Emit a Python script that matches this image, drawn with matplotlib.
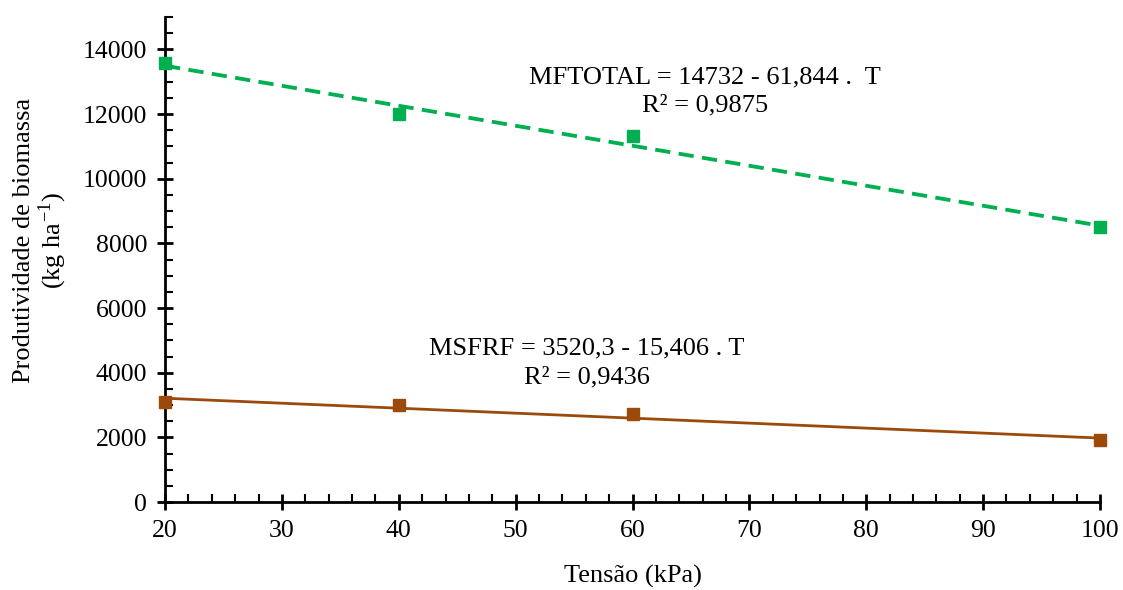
import numpy as np
import matplotlib
matplotlib.use('Agg')
import matplotlib.pyplot as plt
from matplotlib.ticker import MultipleLocator

plt.rcParams['font.family'] = ['Liberation Serif', 'DejaVu Serif']
plt.rcParams['mathtext.fontset'] = 'stix'

tensao = [20, 40, 60, 100]
mftotal = [13580, 11990, 11310, 8500]
msfrf = [3110, 3000, 2740, 1920]

# coeficientes das equacoes ajustadas (a + b*T)
coef_mftotal = (14732, -61.844)
coef_msfrf = (3520.3, -15.406)

GREEN = '#00B050'
BROWN = '#9C4A0C'

fig = plt.figure(figsize=(11.23, 5.90), dpi=100)
ax = fig.add_axes([0.147, 0.149, 0.8325, 0.822])

t_line = np.array([tensao[0], tensao[-1]])
ax.plot(t_line, coef_mftotal[0] + coef_mftotal[1] * t_line, color=GREEN,
        lw=2.75, ls=(0, (4, 2.2)), clip_on=False)
ax.plot(t_line, coef_msfrf[0] + coef_msfrf[1] * t_line, color=BROWN,
        lw=2, clip_on=False)
ax.plot(tensao, mftotal, 's', color=GREEN, ms=9, clip_on=False, zorder=5)
ax.plot(tensao, msfrf, 's', color=BROWN, ms=9, clip_on=False, zorder=5)

ax.set_xlim(20, 100)
ax.set_ylim(0, 15000)
ax.set_xticks(range(20, 101, 10))
ax.set_yticks(range(0, 14001, 2000))
ax.xaxis.set_minor_locator(MultipleLocator(2))
ax.yaxis.set_minor_locator(MultipleLocator(500))

for side in ['top', 'right']:
    ax.spines[side].set_visible(False)
for side in ['left', 'bottom']:
    ax.spines[side].set_linewidth(2)

ax.tick_params(which='major', direction='inout', length=12, width=2,
               labelsize=18.5, pad=7)
ax.tick_params(which='minor', direction='in', length=6, width=1.5)

ax.set_xlabel('Tensão (kPa)', fontsize=19)
ax.xaxis.set_label_coords(0.5, -0.13)
ax.set_ylabel('Produtividade de biomassa\n(kg ha$^{\\mathregular{-1}}$)',
              fontsize=19, linespacing=1.05)
ax.yaxis.set_label_coords(-0.103, 0.54)

ax.text(66.2, 12700, 'MFTOTAL = 14732 - 61,844 .  T\nR² = 0,9875',
        ha='center', va='center', fontsize=19, linespacing=1.4)
ax.text(56.1, 4300, 'MSFRF = 3520,3 - 15,406 . T\nR² = 0,9436',
        ha='center', va='center', fontsize=19, linespacing=1.4)

fig.savefig('out.png', dpi=100)
